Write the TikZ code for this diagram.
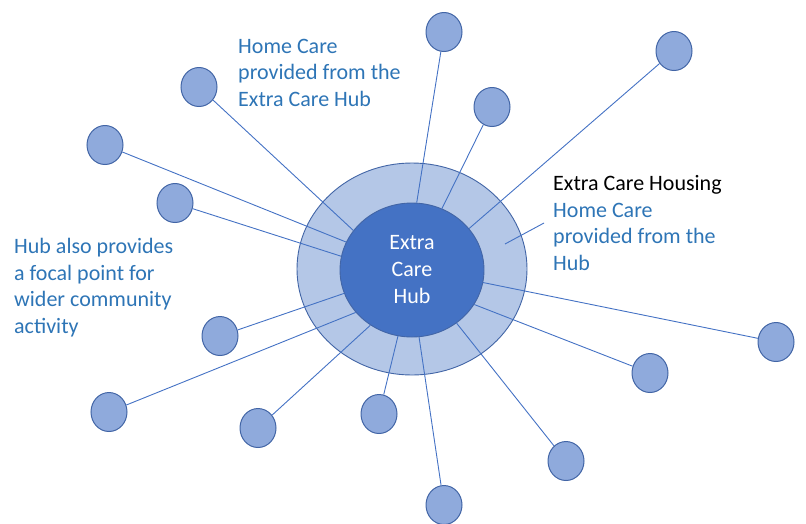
\documentclass[tikz,border=0pt]{standalone}
\usepackage{fontspec}
\setmainfont{Carlito}
\usetikzlibrary{shapes.geometric}
\definecolor{azul}{RGB}{68,114,196}
\definecolor{azulbd}{RGB}{66,101,166}
\definecolor{anillo}{RGB}{180,199,231}
\definecolor{punto}{RGB}{143,170,220}
\definecolor{letra}{RGB}{46,117,182}
\tikzset{
  ring/.style={draw=azulbd, fill=anillo, ellipse, minimum width=230pt, minimum height=212pt, inner sep=0pt, line width=0.9pt},
  hub/.style={draw=azulbd, fill=azul, ellipse, minimum width=144pt, minimum height=134pt, inner sep=0pt, line width=0.9pt, text=white, align=center, font=\fontsize{22}{27}\selectfont},
  dot/.style={draw=azulbd, fill=punto, ellipse, minimum width=36pt, minimum height=39pt, inner sep=0pt, line width=1pt},
  ln/.style={azul, line width=0.9pt},
  lbl/.style={align=left, inner sep=0pt, anchor=base west, text=letra, font=\fontsize{22}{26.5}\selectfont},
}
\begin{document}
\begin{tikzpicture}[x=1pt, y=-1pt]
  \useasboundingbox (0,0) rectangle (806,523);
  \node[ring] (ring) at (412,269) {};
  \node[hub] (hub) at (412,270) {Extra\\Care\\Hub};
  % small circles round the hub
  \foreach \n/\x/\y in {1/444/32, 2/674/51, 3/199/87, 4/492/107, 5/105/145, 6/175/203, 7/776/342,
                        8/220/336, 9/650/373, 10/109/412, 11/258/428, 12/379/414, 13/566/461, 14/444/505}
    \node[dot] (d\n) at (\x,\y) {};
  \foreach \n/\a in {1/86.6, 2/36.6, 3/146.3, 4/64.5, 5/157.8, 6/169.8, 7/-10.9,
                     8/199.7, 9/-29.4, 10/217.5, 11/233.3, 12/-102, 13/-50.3, 14/-84}
    \draw[ln] (d\n) -- (hub.\a);
  % labels (base = last line)
  \node[lbl] (homecare) at (238,106) {Home Care\\provided from the\\Extra Care Hub};
  \node[lbl] (housing) at (553,270) {\textcolor{black}{Extra Care Housing}\\Home Care\\provided from the\\Hub};
  \node[lbl] (community) at (14,333) {Hub also provides\\a focal point for\\wider community\\activity};
  \coordinate (leadA) at (544,223);
  \coordinate (leadB) at (505,244);
  \draw[ln] (leadA) -- (leadB);
\end{tikzpicture}
\end{document}
